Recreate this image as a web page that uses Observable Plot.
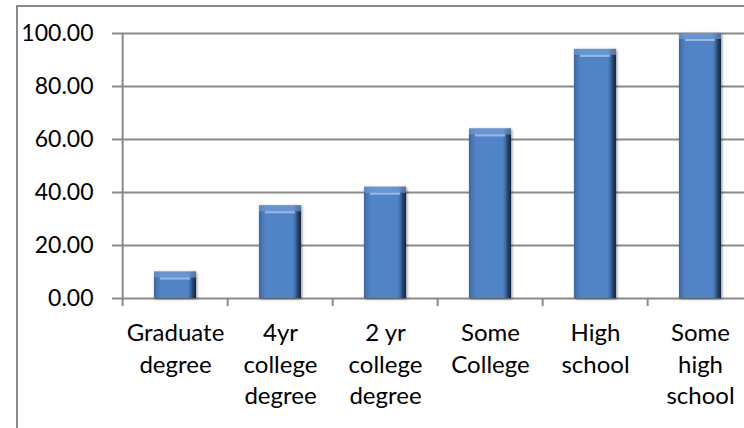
<!DOCTYPE html>
<html>
<head>
<meta charset="utf-8">
<script src="https://cdn.jsdelivr.net/npm/d3@7"></script>
<script src="https://cdn.jsdelivr.net/npm/@observablehq/plot@0.6"></script>
<style>
  html, body { margin: 0; padding: 0; background: #fff; overflow: hidden; }
  #wrap { position: relative; width: 744px; height: 428px; overflow: hidden; }
  #frame {
    position: absolute; left: 16px; top: 5px; width: 900px; height: 600px;
    border-left: 2px solid #8a8a8a; border-top: 2px solid #8a8a8a;
    pointer-events: none;
  }
  #chart { position: absolute; left: 0; top: 0; width: 760px; }
  #chart svg { max-width: none !important; }
</style>
</head>
<body>
<div id="wrap">
  <div id="chart"></div>
  <div id="frame"></div>
</div>
<script>
// Education level categories (x axis) and their values
const categories = [
  "Graduate\ndegree",
  "4yr\ncollege\ndegree",
  "2 yr\ncollege\ndegree",
  "Some\nCollege",
  "High\nschool",
  "Some\nhigh\nschool"
];
const values = [10, 35, 42, 64, 94, 100];
const yTicks = [0, 20, 40, 60, 80, 100];

const data = categories.map((category, i) => ({category, value: values[i]}));

// Layout
const W = 760, H = 428;
const mLeft = 120, mRight = 6, mTop = 33, mBottom = 130;
const padInner = 0.6, padOuter = 0.3;
const step = (W - mLeft - mRight) / (categories.length - padInner + 2 * padOuter);
const gridColor = "#8a8a8a";

const chart = Plot.plot({
  width: W,
  height: H,
  marginLeft: mLeft,
  marginRight: mRight,
  marginTop: mTop,
  marginBottom: mBottom,
  x: {domain: categories, paddingInner: padInner, paddingOuter: padOuter, axis: null},
  y: {domain: [0, 100], axis: null},
  style: {fontFamily: "Lato, 'Open Sans', sans-serif", fontSize: "23px", color: "#000", background: "#fff", maxWidth: "none"},
  marks: [
    // horizontal gridlines, extended left as outer tick marks
    Plot.ruleY(yTicks, {y: d => d, insetLeft: -8, stroke: gridColor, strokeWidth: 2}),
    // vertical value axis line
    Plot.ruleX(categories.slice(0, 1), {x: d => d, dx: -step / 2, insetBottom: -8, stroke: gridColor, strokeWidth: 2}),
    // category tick marks between bands
    Plot.ruleX(categories.slice(1), {x: d => d, y1: 0, y2: 0, dx: -step / 2, insetBottom: -8, stroke: gridColor, strokeWidth: 2}),
    // bars
    Plot.barY(data, {x: "category", y: "value", fill: "url(#barFace)"}),
    // value axis labels
    Plot.text(yTicks, {y: d => d, text: d => d.toFixed(2), frameAnchor: "left", textAnchor: "end", dx: -27, fontSize: 23, fill: "#000"}),
    // category labels
    Plot.text(categories, {x: d => d, text: d => d, frameAnchor: "bottom", lineAnchor: "top", dy: 20, lineHeight: 1.32, fontSize: 24, fill: "#000"})
  ]
});

document.getElementById("chart").appendChild(chart);

// Gradient face and bevel/shadow filter for the bars
d3.select(chart).insert("defs", ":first-child").html(`
  <linearGradient id="barFace" x1="0" y1="0" x2="1" y2="0">
    <stop offset="0" stop-color="#3a659c"/>
    <stop offset="0.07" stop-color="#4677b5"/>
    <stop offset="0.16" stop-color="#5184c6"/>
    <stop offset="0.80" stop-color="#5184c6"/>
    <stop offset="0.87" stop-color="#3d69a3"/>
    <stop offset="0.93" stop-color="#233f64"/>
    <stop offset="1" stop-color="#152840"/>
  </linearGradient>
  <filter id="barBevel" x="-5%" y="-5%" width="110%" height="110%">
    <feGaussianBlur in="SourceAlpha" stdDeviation="1.4" result="blur"/>
    <feOffset in="blur" dx="1" dy="1" result="shadowOff"/>
    <feFlood flood-color="#000" flood-opacity="0.45"/>
    <feComposite in2="shadowOff" operator="in" result="shadow"/>
    <feOffset in="SourceAlpha" dy="6" result="a6"/>
    <feOffset in="SourceAlpha" dy="8" result="a8"/>
    <feComposite in="a6" in2="a8" operator="out" result="stripe"/>
    <feOffset in="SourceAlpha" dx="6" result="r6"/>
    <feOffset in="SourceAlpha" dx="-6" result="l6"/>
    <feComposite in="r6" in2="l6" operator="in" result="narrow"/>
    <feComposite in="stripe" in2="narrow" operator="in" result="stripeN"/>
    <feFlood flood-color="#a6c6f0" flood-opacity="0.75"/>
    <feComposite in2="stripeN" operator="in" result="hl"/>
    <feComposite in="SourceAlpha" in2="a6" operator="out" result="topBand"/>
    <feFlood flood-color="#7ea6dc" flood-opacity="0.45"/>
    <feComposite in2="topBand" operator="in" result="topLight"/>
    <feMerge>
      <feMergeNode in="shadow"/>
      <feMergeNode in="SourceGraphic"/>
      <feMergeNode in="topLight"/>
      <feMergeNode in="hl"/>
    </feMerge>
  </filter>
`);
d3.select(chart).select('g[aria-label="bar"]').attr("filter", "url(#barBevel)");
</script>
</body>
</html>
